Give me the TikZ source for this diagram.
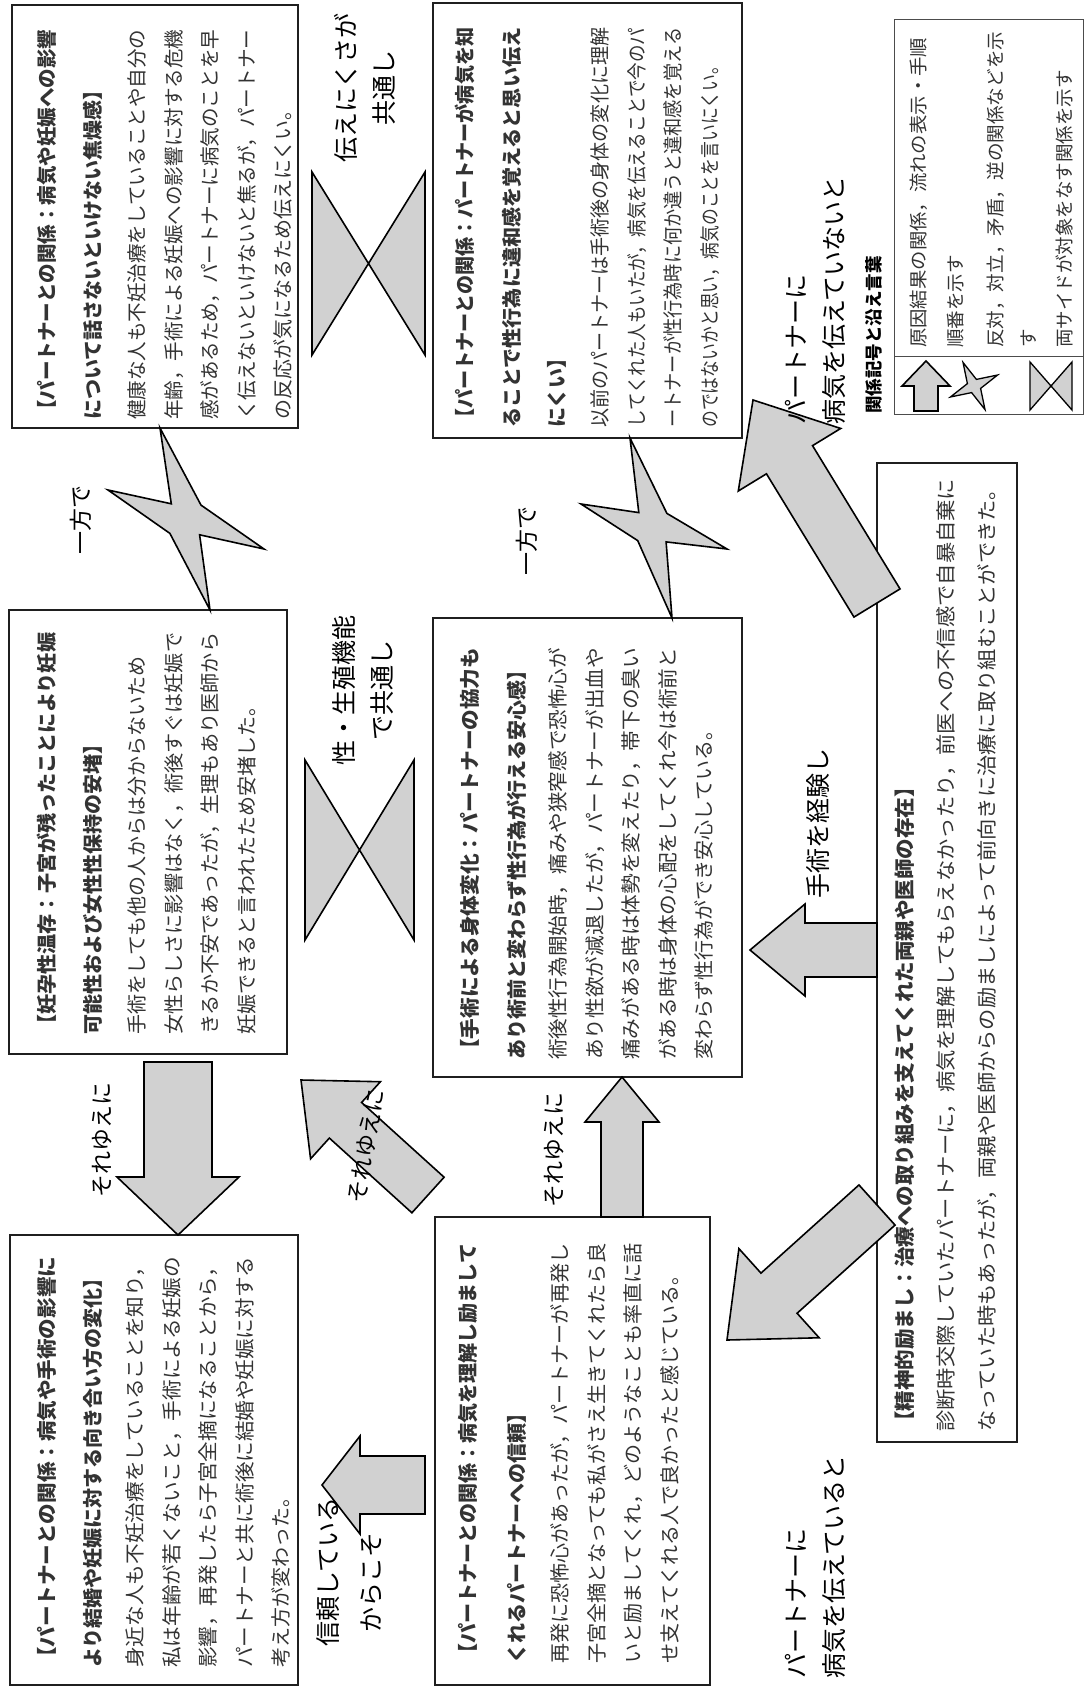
\documentclass[tikz,border=0pt]{standalone}
\usepackage{fontspec}
\usepackage{graphicx}
\setmainfont{Noto Sans CJK JP}
\usetikzlibrary{calc}

\newcommand\tf{\bfseries\fontsize{20}{36.5}\selectfont}
\newcommand\bodyf{\color{black!80}\fontsize{20}{36.5}\selectfont}
\newlength\jlen
\newcommand\jl[1]{\resizebox{\jlen}{\height}{#1}}

\newcommand\barrow[6]{% tail, tip, shaft half width, head half width, head length, name
  \coordinate (#6-hb) at ($(#2)!#5!(#1)$);
  \draw[shapefill] ($(#1)!#3!90:(#2)$) -- ($(#6-hb)!#3!-90:(#1)$) -- ($(#6-hb)!#4!-90:(#1)$)
    -- (#2) -- ($(#6-hb)!#4!90:(#1)$) -- ($(#6-hb)!#3!90:(#1)$) -- ($(#1)!#3!-90:(#2)$) -- cycle;
}

\tikzset{
  box/.style={draw=black!88, line width=2.6pt, fill=white, inner sep=0pt, outer sep=0pt},
  legbox/.style={draw=black!70, line width=1pt, inner sep=0pt, outer sep=0pt},
  shapefill/.style={fill=black!18, draw=black, line width=1.6pt, line join=miter},
  txt/.style={rotate=90, anchor=base west, inner sep=0pt, text width=1000pt, align=left},
  lbl/.style={rotate=90, inner sep=0pt, font=\fontsize{25}{38}\selectfont},
  slbl/.style={lbl, font=\fontsize{23}{30}\selectfont},
}

\begin{document}
\begin{tikzpicture}[x=1pt,y=-1pt]
\useasboundingbox (0,0) rectangle (1085,1688);
\fill[white] (0,0) rectangle (1085,1688);

% ---------- boxes ----------
\node[box, minimum width=286pt, minimum height=423pt] (b1) at (155,216.5) {};
\node[box, minimum width=309pt, minimum height=435pt] (b2) at (587.5,220.5) {};
\node[box, minimum width=278pt, minimum height=444pt] (b3) at (148,832) {};
\node[box, minimum width=309pt, minimum height=459pt] (b4) at (587.5,847.5) {};
\node[box, minimum width=288pt, minimum height=450pt] (b5) at (154,1460) {};
\node[box, minimum width=275pt, minimum height=468pt] (b6) at (572.5,1451) {};
\node[box, minimum width=140pt, minimum height=979pt] (b7) at (947,952.5) {};
\node[legbox, minimum width=189pt, minimum height=394pt] (leg) at (988.5,217) {};
\coordinate (dv) at (0,356);
\draw[black!70, line width=1pt] (leg.west |- dv) -- (leg.east |- dv);

% ---------- block arrows ----------
\coordinate (a1s) at (178,1062);
\coordinate (a1e) at (a1s |- b5.north);
\barrow{a1s}{a1e}{34pt}{61pt}{58pt}{a1}

\coordinate (a2s) at (428,1195);
\coordinate (a2e) at (301,1080);
\barrow{a2s}{a2e}{24pt}{52pt}{60pt}{a2}

\coordinate (a3s) at (622,1217);
\coordinate (a3x) at (622,0);
\coordinate (a3e) at (a3x |- b4.south);
\barrow{a3s}{a3e}{21pt}{37pt}{45pt}{a3}

\coordinate (a4y) at (0,950);
\coordinate (a4s) at (b7.west |- a4y);
\coordinate (a4e) at ($(b4.east |- a4y)+(8,0)$);
\barrow{a4s}{a4e}{27pt}{46pt}{55pt}{a4}

\coordinate (a5y) at (0,603);
\coordinate (a5s) at (b7.west |- a5y);
\coordinate (a5e) at (753,400);
\barrow{a5s}{a5e}{27pt}{60pt}{70pt}{a5}

\coordinate (a6y) at (0,1205);
\coordinate (a6s) at (b7.west |- a6y);
\coordinate (a6e) at (727,1340);
\barrow{a6s}{a6e}{27pt}{60pt}{70pt}{a6}

\coordinate (a7s) at (425,1485);
\coordinate (a7e) at (322,1485);
\barrow{a7s}{a7e}{29pt}{49pt}{38pt}{a7}

% ---------- stars ----------
\draw[shapefill] (160,428) -- (201,505.1) -- (264,549) -- (199.6,534.8) -- (210,610)
  -- (169.9,533.4) -- (108,490) -- (171.3,503.8) -- cycle;
\draw[shapefill] (630,438) -- (666.9,513.4) -- (727,549) -- (666.1,541.9) -- (672,618)
  -- (637.7,540.6) -- (581,504) -- (638.8,512.6) -- cycle;

% ---------- hourglasses ----------
\draw[shapefill] (312,172) -- (425,355) -- (425,172) -- (312,355) -- cycle;
\draw[shapefill] (305,760) -- (414,940) -- (414,760) -- (305,940) -- cycle;

% ---------- legend icons ----------
\coordinate (i1s) at (926,411);
\coordinate (i1e) at (926,361);
\barrow{i1s}{i1e}{12pt}{24pt}{25pt}{i1}
\draw[shapefill, line width=1.3pt] (997.6,375.0) -- (976.4,379.4) -- (963.0,362.4) -- (967.4,383.6)
  -- (950.4,397.0) -- (971.6,392.6) -- (985.0,409.6) -- (980.6,388.4) -- cycle;
\draw[shapefill, line width=1.3pt] (1030,362) -- (1072,410) -- (1072,362) -- (1030,410) -- cycle;

% ---------- box texts ----------
\node[txt, font=\bodyf] (t1) at (54.6,420) {\setlength\jlen{390pt}%
{\tf\jl{【パートナーとの関係：病気や妊娠への影響}}\\[9.5pt]
{\tf について話さないといけない焦燥感】}\\[7.5pt]
\jl{健康な人も不妊治療をしていることや自分の}\\
\jl{年齢，手術による妊娠への影響に対する危機}\\
\jl{感があるため，パートナーに病気のことを早}\\
\jl{く伝えないといけないと焦るが，パートナー}\\
の反応が気になるため伝えにくい。};

\node[txt, font=\bodyf] (t2) at (472.6,428) {\setlength\jlen{400pt}%
{\tf\jl{【パートナーとの関係：パートナーが病気を知}}\\[10.5pt]
{\tf\jl{ることで性行為に違和感を覚えると思い伝え}}\\[8.5pt]
{\tf にくい】}\\[6.5pt]
\jl{以前のパートナーは手術後の身体の変化に理解}\\
\jl{してくれた人もいたが，病気を伝えることで今のパ}\\
\jl{ートナーが性行為時に何か違うと違和感を覚える}\\
\resizebox{370pt}{\height}{のではないかと思い，病気のことを言いにくい。}};

\node[txt, font=\bodyf] (t3) at (54.6,1035) {\setlength\jlen{402pt}%
{\tf\jl{【妊孕性温存：子宮が残ったことにより妊娠}}\\[9.5pt]
{\tf 可能性および女性性保持の安堵】}\\[7.5pt]
手術をしても他の人からは分からないため\\
\jl{女性らしさに影響はなく，術後すぐは妊娠で}\\
\jl{きるか不安であったが，生理もあり医師から}\\
妊娠できると言われたため安堵した。};

\node[txt, font=\bodyf] (t4) at (477.6,1060) {\setlength\jlen{412pt}%
{\tf\jl{【手術による身体変化：パートナーの協力も}}\\[10.5pt]
{\tf あり術前と変わらず性行為が行える安心感】}\\[4.5pt]
\jl{術後性行為開始時，痛みや狭窄感で恐怖心が}\\
\jl{あり性欲が減退したが，パートナーが出血や}\\
\jl{痛みがある時は体勢を変えたり，帯下の臭い}\\
\jl{がある時は身体の心配をしてくれ今は術前と}\\
変わらず性行為ができ安心している。};

\node[txt, font=\bodyf] (t5) at (54.6,1668) {\setlength\jlen{411pt}%
{\tf\jl{【パートナーとの関係：病気や手術の影響に}}\\[9.5pt]
{\tf より結婚や妊娠に対する向き合い方の変化】}\\[5.5pt]
\jl{身近な人も不妊治療をしていることを知り，}\\
\jl{私は年齢が若くないこと，手術による妊娠の}\\
\jl{影響，再発したら子宮全摘になることから，}\\
\jl{パートナーと共に術後に結婚や妊娠に対する}\\
考え方が変わった。};

\node[txt, font=\bodyf] (t6) at (475.6,1664) {\setlength\jlen{420pt}%
{\tf\jl{【パートナーとの関係：病気を理解し励まして}}\\[12.5pt]
{\tf くれるパートナーへの信頼】}\\[6.5pt]
\jl{再発に恐怖心があったが，パートナーが再発し}\\
\jl{子宮全摘となっても私がさえ生きてくれたら良}\\
\jl{いと励ましてくれ，どのようなことも率直に話}\\
せ支えてくれる人で良かったと感じている。};

\node[txt, font=\color{black!80}\fontsize{20}{41}\selectfont] (t7) at (912.6,1432) {\setlength\jlen{953pt}%
{\bfseries\fontsize{20.5}{41}\selectfont 【精神的励まし：治療への取り組みを支えてくれた両親や医師の存在】}\\
\jl{診断時交際していたパートナーに，病気を理解してもらえなかったり，前医への不信感で自暴自棄に}\\
\jl{なっていた時もあったが，両親や医師からの励ましによって前向きに治療に取り組むことができた。}};

% ---------- legend texts ----------
\node[txt, font=\color{black!80}\fontsize{18.5}{37}\selectfont] (g1) at (925,348) {\setlength\jlen{310pt}%
\jl{原因結果の関係，流れの表示・手順}\\順番を示す};
\node[txt, font=\color{black!80}\fontsize{18.5}{33}\selectfont] (g2) at (1002,348) {\setlength\jlen{316pt}%
\jl{反対，対立，矛盾，逆の関係などを示}\\す};
\node[txt, font=\color{black!80}\fontsize{18.5}{33}\selectfont] (g3) at (1071,348) {両サイドが対象をなす関係を示す};
\node[lbl, anchor=west, font=\bfseries\fontsize{17.5}{17.5}\selectfont] (lt) at (874,414) {関係記号と沿え言葉};

% ---------- connector labels ----------
\node[slbl] (l1) at (81,520) {一方で};
\node[slbl] (l2) at (527,541) {一方で};
\node[lbl, align=center] (l3) at (365,88) {伝えにくさが\\共通し};
\node[lbl, align=center] (l4) at (363,690) {性・生殖機能\\で共通し};
\node[slbl] (l5) at (102,1140) {それゆえに};
\node[slbl, rotate=-10] (l6) at (366,1146) {それゆえに};
\node[slbl] (l7) at (554,1150) {それゆえに};
\node[lbl] (l8a) at (328,1572) {信頼している};
\node[lbl] (l8b) at (371,1582) {からこそ};
\node[lbl, align=left, anchor=west] (l9) at (815.5,425) {パートナーに\\病気を伝えていないと};
\node[lbl] (l10) at (818,823) {手術を経験し};
\node[lbl, align=left, anchor=west] (l11) at (815.5,1679) {パートナーに\\病気を伝えていると};
\end{tikzpicture}
\end{document}
